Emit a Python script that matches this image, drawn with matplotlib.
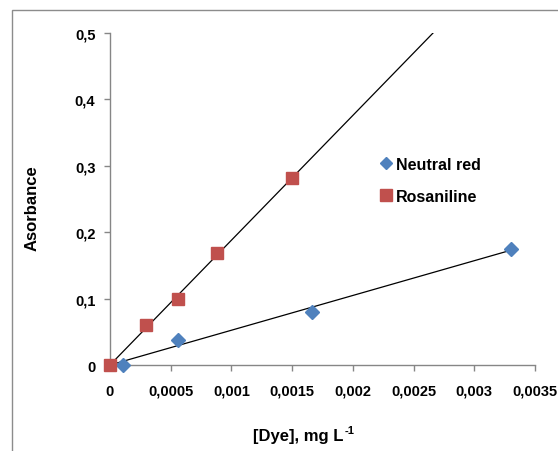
import numpy as np
import matplotlib
matplotlib.use("Agg")
import matplotlib.pyplot as plt
from matplotlib.patches import Rectangle

# data
neutral_x = [0.00011, 0.00056, 0.00166, 0.0033]
neutral_y = [0.0, 0.038, 0.080, 0.175]
rosan_x = [0.0, 0.0003, 0.00056, 0.00088, 0.0015]
rosan_y = [0.0, 0.060, 0.099, 0.168, 0.282]

x_ticks = [0, 0.0005, 0.001, 0.0015, 0.002, 0.0025, 0.003, 0.0035]
x_labels = ['0', '0,0005', '0,001', '0,0015', '0,002', '0,0025', '0,003', '0,0035']
y_ticks = [0, 0.1, 0.2, 0.3, 0.4, 0.5]
y_labels = ['0', '0,1', '0,2', '0,3', '0,4', '0,5']

plt.rcParams['font.family'] = ['Liberation Sans', 'DejaVu Sans']
fs_tick = 10.5
fs_title = 12
fs_leg = 11.5

####################################################
fig = plt.figure(figsize=(5.58, 4.52), dpi=100)

# chart area frame (cut off at right and bottom like the reference)
fig.patches.append(Rectangle((12 / 558, -0.1), 1.0, 1 - 11 / 452 + 0.1,
                             transform=fig.transFigure, fill=False,
                             edgecolor='#8c8c8c', linewidth=1.0))

ax = fig.add_axes([110 / 558, 1 - 366 / 452, 425 / 558, 332 / 452])

# trendlines forced through origin
k_ros = np.sum(np.array(rosan_x) * np.array(rosan_y)) / np.sum(np.array(rosan_x) ** 2)
k_neu = np.sum(np.array(neutral_x) * np.array(neutral_y)) / np.sum(np.array(neutral_x) ** 2)
xr = np.array([0, x_ticks[-1]])
ax.plot(xr, k_ros * xr, color='black', linewidth=0.9, zorder=2)
xn = np.array([0, max(neutral_x)])
ax.plot(xn, k_neu * xn, color='black', linewidth=0.9, zorder=2)

ax.plot(neutral_x, neutral_y, linestyle='none', marker='D', markersize=7,
        color='#4F81BD', label='Neutral red', zorder=3, clip_on=False)
ax.plot(rosan_x, rosan_y, linestyle='none', marker='s', markersize=9,
        color='#C0504D', label='Rosaniline', zorder=3, clip_on=False)

ax.set_xlim(0, 0.0035)
ax.set_ylim(0, 0.5)
ax.set_xticks(x_ticks)
ax.set_xticklabels(x_labels, fontweight='bold', fontsize=fs_tick)
ax.set_yticks(y_ticks)
ax.set_yticklabels(y_labels, fontweight='bold', fontsize=fs_tick)

for side in ['top', 'right']:
    ax.spines[side].set_visible(False)
for side in ['left', 'bottom']:
    ax.spines[side].set_color('#868686')
    ax.spines[side].set_linewidth(1.0)
ax.tick_params(axis='both', direction='out', length=4.5, color='#868686', width=1.0)
ax.tick_params(axis='x', pad=9)
ax.tick_params(axis='y', pad=6)

xl = fig.text(298 / 558, 1 - 437 / 452, '[Dye], mg L', ha='center', va='center',
              fontsize=fs_title, fontweight='bold')
fig.canvas.draw()
bb = xl.get_window_extent()
fig.text((bb.x1 + 1) / 558, (bb.y1 - 2) / 452, '-1', ha='left', va='center',
         fontsize=8, fontweight='bold')
fig.text(32 / 558, 1 - 208 / 452, 'Asorbance', ha='center', va='center',
         rotation=90, fontsize=fs_title, fontweight='bold')

leg = fig.legend(loc='upper left', bbox_to_anchor=(381 / 558, 1 - 158 / 452),
                 frameon=False, handlelength=0.6, handletextpad=0.35,
                 labelspacing=1.05, borderpad=0, borderaxespad=0,
                 prop={'weight': 'bold', 'size': fs_leg})
leg.legend_handles[0].set_markersize(6.5)
leg.legend_handles[1].set_markersize(8)

fig.savefig('out.png', dpi=100)
